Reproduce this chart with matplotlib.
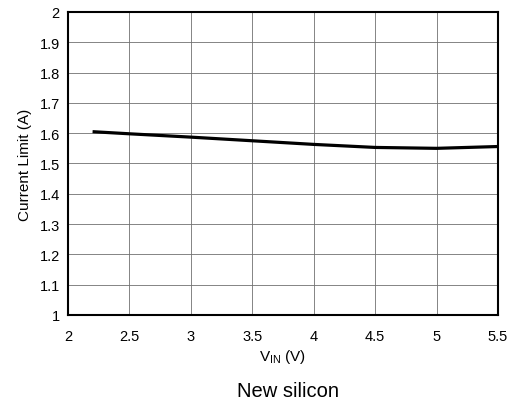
import matplotlib
matplotlib.use("Agg")
import matplotlib.pyplot as plt

plt.rcParams['font.family'] = ['Liberation Sans', 'DejaVu Sans']
plt.rcParams['mathtext.fontset'] = 'custom'
plt.rcParams['mathtext.rm'] = 'Liberation Sans'

# data
vin = [2.2, 2.5, 3.0, 3.5, 4.0, 4.5, 5.0, 5.5]
current_limit = [1.605, 1.598, 1.587, 1.575, 1.563, 1.553, 1.550, 1.556]

x_ticks = [2, 2.5, 3, 3.5, 4, 4.5, 5, 5.5]
x_labels = ["2", "2.5", "3", "3.5", "4", "4.5", "5", "5.5"]
y_ticks = [1, 1.1, 1.2, 1.3, 1.4, 1.5, 1.6, 1.7, 1.8, 1.9, 2]
y_labels = ["1", "1.1", "1.2", "1.3", "1.4", "1.5", "1.6", "1.7", "1.8", "1.9", "2"]

fig = plt.figure(figsize=(5.14, 4.06), dpi=100)
ax = fig.add_axes([0.1323, 0.2217, 0.8366, 0.7463])

ax.plot(vin, current_limit, color='black', linewidth=2.3, solid_capstyle='butt')

ax.set_xlim(2, 5.5)
ax.set_ylim(1, 2)
ax.set_xticks(x_ticks)
ax.set_xticklabels(x_labels)
ax.set_yticks(y_ticks)
ax.set_yticklabels(y_labels)
ax.tick_params(axis='both', length=0, labelsize=10.5)
ax.tick_params(axis='x', pad=10)
ax.tick_params(axis='y', pad=6)
ax.grid(True, color='#707070', linewidth=0.6)
ax.set_axisbelow(True)
for s in ax.spines.values():
    s.set_linewidth(1.5)
    s.set_color('black')

ax.set_xlabel(r"V$_{\mathrm{IN}}$ (V)", fontsize=11, labelpad=3)
ax.set_ylabel("Current Limit (A)", fontsize=11, labelpad=5)

fig.text(0.561, 0.035, "New silicon", ha='center', va='center', fontsize=14.5)

fig.savefig("out.png", dpi=100)
